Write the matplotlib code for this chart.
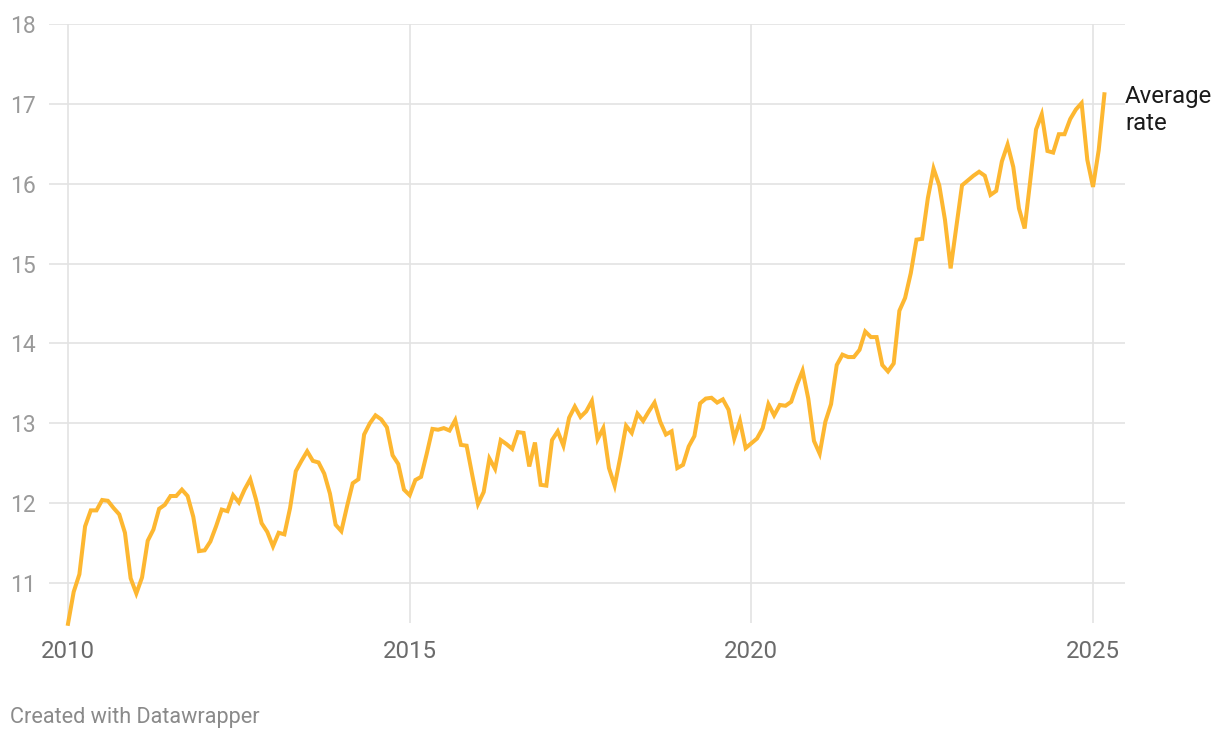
import matplotlib
matplotlib.use("Agg")
import matplotlib.pyplot as plt
import numpy as np

plt.rcParams['font.family'] = ['Roboto', 'DejaVu Sans']

start_year = 2010
values = [
    # 2010
    10.49, 10.89, 11.11, 11.71, 11.91, 11.91, 12.04, 12.03, 11.94, 11.86, 11.63, 11.06,
    # 2011
    10.87, 11.07, 11.53, 11.67, 11.93, 11.98, 12.09, 12.09, 12.17, 12.09, 11.83, 11.40,
    # 2012
    11.41, 11.52, 11.71, 11.92, 11.90, 12.10, 12.01, 12.17, 12.30, 12.05, 11.75, 11.64,
    # 2013
    11.46, 11.63, 11.61, 11.94, 12.40, 12.53, 12.65, 12.53, 12.51, 12.37, 12.12, 11.73,
    # 2014
    11.65, 11.96, 12.25, 12.30, 12.86, 13.00, 13.10, 13.05, 12.95, 12.60, 12.49, 12.17,
    # 2015
    12.10, 12.29, 12.33, 12.62, 12.93, 12.92, 12.94, 12.91, 13.04, 12.73, 12.72, 12.35,
    # 2016
    11.99, 12.14, 12.56, 12.43, 12.79, 12.74, 12.68, 12.89, 12.88, 12.46, 12.76, 12.23,
    # 2017
    12.22, 12.79, 12.90, 12.72, 13.07, 13.21, 13.08, 13.15, 13.28, 12.80, 12.94, 12.44,
    # 2018
    12.22, 12.58, 12.97, 12.88, 13.12, 13.03, 13.15, 13.26, 13.02, 12.86, 12.90, 12.44,
    # 2019
    12.48, 12.71, 12.84, 13.25, 13.31, 13.32, 13.26, 13.30, 13.17, 12.81, 13.03, 12.69,
    # 2020
    12.75, 12.81, 12.94, 13.24, 13.10, 13.23, 13.22, 13.27, 13.48, 13.66, 13.31, 12.78,
    # 2021
    12.62, 13.02, 13.24, 13.73, 13.86, 13.83, 13.83, 13.92, 14.15, 14.08, 14.08, 13.73,
    # 2022
    13.65, 13.75, 14.41, 14.57, 14.88, 15.30, 15.31, 15.82, 16.19, 15.98, 15.55, 14.94,
    # 2023
    15.46, 15.98, 16.04, 16.10, 16.15, 16.10, 15.86, 15.91, 16.28, 16.49, 16.21, 15.69,
    # 2024
    15.44, 16.05, 16.68, 16.87, 16.41, 16.39, 16.62, 16.62, 16.81, 16.93, 17.01, 16.30,
    # 2025
    15.96, 16.42, 17.12,
]
series_label = "Average rate"
x_ticks = [2010, 2015, 2020, 2025]
y_ticks = [11, 12, 13, 14, 15, 16, 17, 18]
credit = "Created with Datawrapper"

x = start_year + np.arange(len(values)) / 12.0

W, H = 1220, 740
fig = plt.figure(figsize=(W / 100, H / 100), dpi=100)
left_px, right_px, top_px, bottom_px = 49, 1125, 24, 623
ax = fig.add_axes([left_px / W, 1 - bottom_px / H,
                   (right_px - left_px) / W, (bottom_px - top_px) / H])

px_per_year = (1093 - 68) / 15.0
ax.set_xlim(2010 - (68 - left_px) / px_per_year, 2010 + (right_px - 68) / px_per_year)
ax.set_ylim(10.5, 18)

grid_c = '#e3e3e3'
for yt in y_ticks:
    ax.axhline(yt, color=grid_c, lw=1.2, zorder=1)
for xt in x_ticks:
    ax.axvline(xt, color=grid_c, lw=1.2, zorder=1, ymin=0, ymax=1)

ax.plot(x, values, color='#fdb731', lw=2.9, solid_joinstyle='miter',
        zorder=3, clip_on=False)

for s in ax.spines.values():
    s.set_visible(False)
ax.set_xticks([])
ax.set_yticks([])

for yt in y_ticks:
    ax.text(10 / W, 1 - (top_px + (18 - yt) * (bottom_px - top_px) / 7.5) / H, str(yt),
            transform=fig.transFigure, ha='left', va='center_baseline',
            fontsize=16.5, color='#9a9a9a')

for xt in x_ticks:
    ax.text(xt, 1 - 651 / H, str(xt), transform=ax.get_xaxis_transform() + 0 if False else
            matplotlib.transforms.blended_transform_factory(ax.transData, fig.transFigure),
            ha='center', va='center', fontsize=17.3, color='#6b6b6b')

ax.text(1125 / W, 1 - 110 / H, "Average\nrate", transform=fig.transFigure,
        ha='left', va='center', fontsize=17.3, color='#1a1a1a', linespacing=1.2)

fig.text(10 / W, 1 - 717 / H, credit, ha='left', va='center',
         fontsize=15.6, color='#8a8a8a')

fig.savefig('out.png', dpi=100, facecolor='white')
